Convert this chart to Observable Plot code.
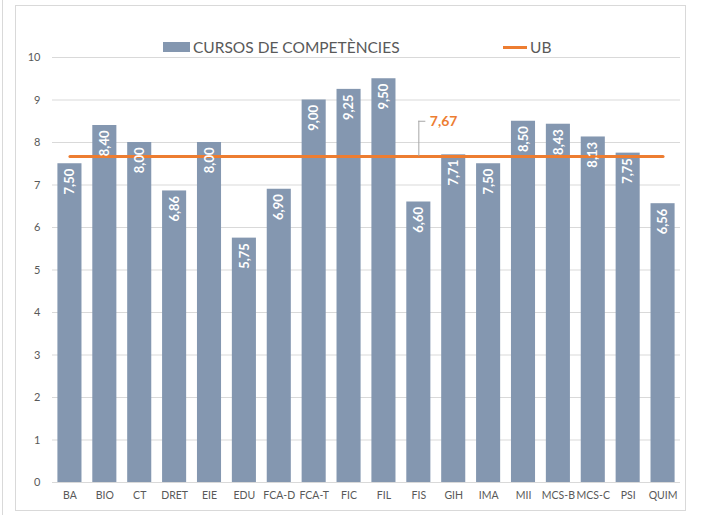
<!DOCTYPE html>
<html>
<head>
<meta charset="utf-8">
<script src="https://cdn.jsdelivr.net/npm/d3@7"></script>
<script src="https://cdn.jsdelivr.net/npm/@observablehq/plot@0.6"></script>
<style>
  html, body { margin: 0; padding: 0; background: #fff; }
  #wrap { position: relative; width: 702px; height: 515px; overflow: hidden; font-family: Lato, "Open Sans", sans-serif; }
  #frame { position: absolute; left: 15px; top: 5px; width: 671px; height: 506px; border: 1px solid #d9d9d9; box-sizing: border-box; }
  #edge { position: absolute; left: 2px; top: 0; width: 1px; height: 515px; background: #d9d9d9; }
  #chart { position: absolute; left: 0; top: 0; }
  .leg { position: absolute; top: 38px; font-size: 15.5px; color: #595959; display: flex; align-items: center; white-space: nowrap; }
  .sw { display: inline-block; width: 27px; height: 10px; background: #8497b0; margin-right: 3px; }
  .ln { display: inline-block; width: 24px; height: 3px; background: #ed7d31; margin-right: 3px; }
</style>
</head>
<body>
<div id="wrap">
  <div id="edge"></div>
  <div id="frame"></div>
  <div id="chart"></div>
  <div class="leg" style="left:163px"><span class="sw"></span>CURSOS DE COMPETÈNCIES</div>
  <div class="leg" style="left:503px"><span class="ln"></span>UB</div>
</div>
<script>
const categories = ["BA","BIO","CT","DRET","EIE","EDU","FCA-D","FCA-T","FIC","FIL","FIS","GIH","IMA","MII","MCS-B","MCS-C","PSI","QUIM"];
const values = [7.50, 8.40, 8.00, 6.86, 8.00, 5.75, 6.90, 9.00, 9.25, 9.50, 6.60, 7.71, 7.50, 8.50, 8.43, 8.13, 7.75, 6.56];
const ubValue = 7.67;
const ubLabelCategory = "FIS";
const yTicks = [0,1,2,3,4,5,6,7,8,9,10];

const data = categories.map((c, i) => ({cat: c, value: values[i]}));
const ubLine = categories.map(c => ({cat: c, value: ubValue}));
const fmt = v => v.toFixed(2).replace(".", ",");

const W = 702, ML = 52, MR = 22;
const step = (W - ML - MR) / categories.length;
const barInset = step * 0.155;

const chart = Plot.plot({
  width: W,
  height: 515,
  marginLeft: ML,
  marginRight: MR,
  marginTop: 57,
  marginBottom: 33,
  style: {fontFamily: "Lato, 'Open Sans', sans-serif", fontSize: "11px", color: "#595959", background: "transparent"},
  x: {domain: categories, padding: 0, round: false, label: null},
  y: {domain: [0, 10], label: null},
  marks: [
    Plot.gridY(yTicks, {stroke: "#d9d9d9", strokeOpacity: 1}),
    Plot.axisY(yTicks, {tickSize: 0, tickPadding: 12, fontSize: 11, fill: "#595959", tickFormat: d => d, label: null}),
    Plot.axisX({tickSize: 0, tickPadding: 9, fontSize: 10.5, fill: "#595959", label: null}),
    Plot.barY(data, {x: "cat", y: "value", fill: "#8497b0", insetLeft: barInset, insetRight: barInset}),
    Plot.ruleY([0], {stroke: "#d9d9d9"}),
    Plot.line(ubLine, {x: "cat", y: "value", stroke: "#ed7d31", strokeWidth: 3}),
    Plot.ruleX([ubLabelCategory], {y1: ubValue, y2: 8.5, stroke: "#a6a6a6", strokeWidth: 1}),
    Plot.tickY([{cat: ubLabelCategory, value: 8.5}], {x: "cat", y: "value", stroke: "#a6a6a6", strokeWidth: 1, insetLeft: step / 2, insetRight: step / 2 - 7}),
    Plot.text([{cat: ubLabelCategory, value: 8.5}], {x: "cat", y: "value", text: () => fmt(ubValue), dx: 11, dy: 0, textAnchor: "start", fill: "#ed7d31", fontWeight: "bold", fontSize: 14}),
    Plot.text(data, {x: "cat", y: "value", text: d => fmt(d.value), rotate: -90, textAnchor: "end", lineAnchor: "middle", dy: 5, fill: "white", fontWeight: "bold", fontSize: 13})
  ]
});
document.getElementById("chart").appendChild(chart);
</script>
</body>
</html>
